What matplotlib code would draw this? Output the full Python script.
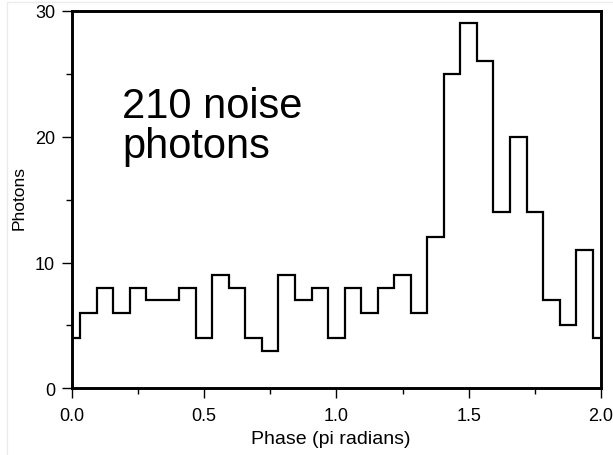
import numpy as np
import matplotlib
matplotlib.use("Agg")
import matplotlib.pyplot as plt
from matplotlib.ticker import MultipleLocator
from matplotlib.patches import Rectangle

plt.rcParams['font.family'] = ['Liberation Sans', 'DejaVu Sans']

# photon counts per phase bin (bins of pi/16, centred on k/16; end bins are half bins)
counts = [4, 6, 8, 6, 8, 7, 7, 8, 4, 9, 8, 4, 3, 9, 7, 8, 4,
          8, 6, 8, 9, 6, 12, 25, 29, 26, 14, 20, 14, 7, 5, 11, 4]
bin_width = 1 / 16
x_ticks = [0.0, 0.5, 1.0, 1.5, 2.0]
x_tick_labels = ["0.0", "0.5", "1.0", "1.5", "2.0"]
y_ticks = [0, 10, 20, 30]
note = "210 noise\nphotons"

centers = np.arange(len(counts)) * bin_width
edges = np.clip(np.append(centers - bin_width / 2, centers[-1] + bin_width / 2), 0, 2)

fig = plt.figure(figsize=(6.13, 4.56), dpi=100)
ax = fig.add_axes([0.117, 0.146, 0.8634, 0.8283])

ax.stairs(counts, edges, baseline=None, color="black", lw=1.6)

ax.set_xlim(0, 2)
ax.set_ylim(0, 30)
ax.set_xticks(x_ticks)
ax.set_xticklabels(x_tick_labels)
ax.set_yticks(y_ticks)
ax.xaxis.set_minor_locator(MultipleLocator(0.25))
ax.yaxis.set_minor_locator(MultipleLocator(5))
ax.tick_params(which="major", direction="out", length=7, width=1, labelsize=13, color="black")
ax.tick_params(which="minor", direction="out", length=4, width=1, color="black")
ax.tick_params(axis="x", which="major", pad=6.5)
ax.tick_params(axis="y", which="major", pad=5)
ax.tick_params(axis="y", which="minor", length=4.5)
ax.tick_params(top=False, right=False, which="both")
for s in ax.spines.values():
    s.set_linewidth(2.1)

fig.text(0.032, 0.566, "Photons", rotation=90, ha="center", va="center", fontsize=12.5)
fig.text(0.540, 0.036, "Phase (pi radians)", ha="center", va="center", fontsize=14)

lines = note.split("\n")
fig.text(122 / 613, (456 - 118) / 456, lines[0], ha="left", va="baseline", fontsize=30)
fig.text(122 / 613, (456 - 158) / 456, lines[1], ha="left", va="baseline", fontsize=30)

# faint page border seen in the reference
fig.patches.append(Rectangle((0.011, -0.01), 1.0, 1.003, transform=fig.transFigure,
                             fill=False, edgecolor="#ececec", lw=1))

fig.savefig("out.png", dpi=100)
